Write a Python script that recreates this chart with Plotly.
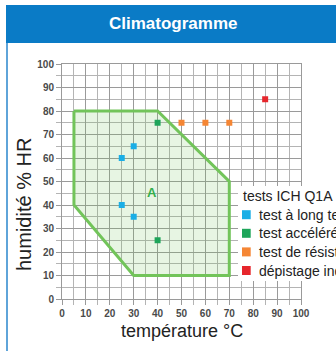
import plotly.graph_objects as go

# ---- data -------------------------------------------------------------
# climatic zone A envelope (temperature °C, relative humidity %)
zone_temp = [5, 40, 70, 70, 30, 5, 5]
zone_hum = [80, 80, 50, 10, 10, 40, 80]
zone_label = "A"
zone_label_pos = (37.5, 45.5)

series_names = ["test à long terme", "test accéléré", "test de résistance", "dépistage indicatif"]
series_temp = [
    [25, 30, 25, 30],
    [40, 40],
    [50, 60, 70],
    [85],
]
series_hum = [
    [60, 65, 40, 35],
    [75, 25],
    [75, 75, 75],
    [85],
]
series_colors = ["#1aaee6", "#1ea55a", "#f58634", "#e6262c"]
legend_title = "tests ICH Q1A"

x_ticks = [0, 10, 20, 30, 40, 50, 60, 70, 80, 90, 100]
y_ticks = [0, 10, 20, 30, 40, 50, 60, 70, 80, 90, 100]

# ---- page geometry ----------------------------------------------------
W, H = 336, 351
L, R, T, B = 62, 35, 64, 52
FONT = "Liberation Sans, Arial, sans-serif"


def px_x(p):
    return (p - L) / (W - L - R)


def px_y(p):
    return (H - B - p) / (H - T - B)


fig = go.Figure()

# zone envelope
fig.add_trace(go.Scatter(
    x=zone_temp, y=zone_hum, mode="lines", fill="toself",
    fillcolor="rgba(112,195,90,0.17)",
    line=dict(color="#72c45a", width=3),
    hoverinfo="skip", showlegend=False,
))

# measurement points
for name, xs, ys, col in zip(series_names, series_temp, series_hum, series_colors):
    fig.add_trace(go.Scatter(
        x=xs, y=ys, mode="markers", name=name,
        marker=dict(symbol="square", size=6, color=col),
        showlegend=False,
    ))

grid_major = "#9a9a9a"
grid_minor = "#b4b4b4"
tickfont = dict(family=FONT, size=10, color="#4a4a4a", weight="bold")

fig.update_xaxes(
    range=[0, 100], tickvals=x_ticks, ticks="outside", ticklen=5,
    tickcolor=grid_major, tickfont=tickfont,
    showgrid=True, gridcolor=grid_major, gridwidth=1,
    minor=dict(dtick=5, ticks="outside", ticklen=5, tickcolor=grid_minor,
               showgrid=True, gridcolor=grid_minor, gridwidth=1),
    showline=True, mirror=True, linecolor=grid_major, linewidth=1,
    zeroline=False, fixedrange=True,
)
fig.update_yaxes(
    range=[0, 100], tickvals=y_ticks, ticks="outside", ticklen=5,
    tickcolor=grid_major, tickfont=tickfont,
    showgrid=True, gridcolor=grid_major, gridwidth=1,
    minor=dict(dtick=5, ticks="outside", ticklen=5, tickcolor=grid_minor,
               showgrid=True, gridcolor=grid_minor, gridwidth=1),
    showline=True, mirror=True, linecolor=grid_major, linewidth=1,
    zeroline=False, fixedrange=True,
)

shapes = [
    # header band
    dict(type="rect", xref="paper", yref="paper", layer="above",
         x0=px_x(6), x1=px_x(337), y0=px_y(43), y1=px_y(5),
         fillcolor="#0a7bc6", line=dict(width=0)),
    # left frame rule
    dict(type="line", xref="paper", yref="paper", layer="above",
         x0=px_x(7), x1=px_x(7), y0=px_y(43), y1=px_y(352),
         line=dict(color="#2a86cc", width=1.5)),
    # legend background
    dict(type="rect", xref="paper", yref="paper", layer="above",
         x0=px_x(238), x1=px_x(337), y0=px_y(281), y1=px_y(186),
         fillcolor="white", line=dict(width=0)),
]

annotations = [
    dict(text="<b>Climatogramme</b>", xref="paper", yref="paper",
         x=px_x(173), y=px_y(24), xanchor="center", yanchor="middle",
         showarrow=False, font=dict(family=FONT, size=17, color="white")),
    dict(text="humidité % HR", xref="paper", yref="paper", textangle=-90,
         x=px_x(24), y=px_y(205), xanchor="center", yanchor="middle",
         showarrow=False, font=dict(family=FONT, size=20, color="#222")),
    dict(text="température °C", xref="paper", yref="paper",
         x=px_x(182), y=px_y(331), xanchor="center", yanchor="middle",
         showarrow=False, font=dict(family=FONT, size=18, color="#222")),
    dict(text="<b>%s</b>" % zone_label, xref="x", yref="y",
         x=zone_label_pos[0], y=zone_label_pos[1], xanchor="center", yanchor="middle",
         showarrow=False, font=dict(family=FONT, size=13, color="#34ad4c")),
    dict(text=legend_title, xref="paper", yref="paper",
         x=px_x(240.5), y=px_y(195.5), xanchor="left", yanchor="middle",
         showarrow=False, font=dict(family=FONT, size=14, color="#222")),
]

# legend rows: coloured square + label
for i, (name, col) in enumerate(zip(series_names, series_colors)):
    yc = 214.7 + 18.6 * i
    shapes.append(dict(type="rect", xref="paper", yref="paper", layer="above",
                       x0=px_x(242), x1=px_x(250.7), y0=px_y(yc + 4.5), y1=px_y(yc - 4.5),
                       fillcolor=col, line=dict(width=0)))
    annotations.append(dict(text=name, xref="paper", yref="paper",
                            x=px_x(256.5), y=px_y(yc), xanchor="left", yanchor="middle",
                            showarrow=False,
                            font=dict(family=FONT, size=14, color="#222")))

fig.update_layout(
    width=W, height=H, autosize=False,
    margin=dict(l=L, r=R, t=T, b=B, pad=0),
    paper_bgcolor="white", plot_bgcolor="white",
    shapes=shapes, annotations=annotations,
    showlegend=False,
    font=dict(family=FONT),
)

fig.write_html("out.html", config=dict(displayModeBar=False))
